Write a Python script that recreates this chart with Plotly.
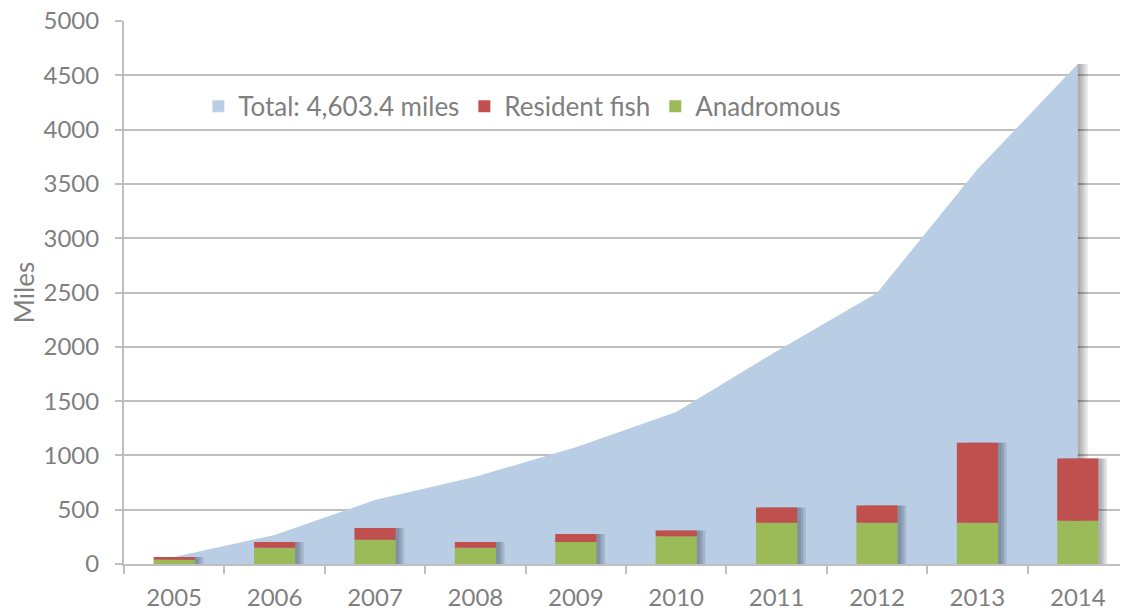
import plotly.graph_objects as go

years = ["2005", "2006", "2007", "2008", "2009", "2010", "2011", "2012", "2013", "2014"]
total_miles = [65, 267, 589, 803, 1075, 1400, 1960, 2495, 3635, 4603.4]
resident_fish = [25, 53, 108, 53, 73, 53, 140, 159, 736, 574]
anadromous = [40, 150, 224, 150, 203, 256, 380, 380, 380, 398]
bar_totals = [a + r for a, r in zip(anadromous, resident_fish)]

AREA = "#B9CDE5"
RED = "#C0504D"
GREEN = "#9BBB59"
GRID = "#BFBFBF"
TXT = "#7F7F7F"
FONT = "Lato"

BW = 0.41
fig = go.Figure()

# Total area on the base subplot (drawn beneath the bar subplot)
fig.add_trace(go.Scatter(
    x=years, y=total_miles, mode="lines", fill="tozeroy",
    fillcolor=AREA, line=dict(width=0, color=AREA),
    showlegend=False, hoverinfo="x+y", xaxis="x", yaxis="y",
))

# soft shadow along the right edge of the area
for w in [0.1, 0.075, 0.05, 0.025]:
    fig.add_trace(go.Bar(
        x=[years[-1]], y=[total_miles[-1]], width=w, offset=0,
        marker=dict(color="rgba(0,0,0,0.09)", line=dict(width=0)),
        showlegend=False, hoverinfo="skip", xaxis="x2", yaxis="y2",
    ))

# soft shadows behind bars
for dx in [0.085, 0.06, 0.035]:
    fig.add_trace(go.Bar(
        x=years, y=bar_totals, width=BW, offset=-BW / 2 + dx,
        marker=dict(color="rgba(20,30,50,0.13)", line=dict(width=0)),
        showlegend=False, hoverinfo="skip", xaxis="x2", yaxis="y2",
    ))

fig.add_trace(go.Bar(
    x=years, y=anadromous, name="Anadromous", width=BW, offset=-BW / 2,
    marker=dict(color=GREEN, line=dict(width=0)), legendrank=3,
    xaxis="x2", yaxis="y2",
))
fig.add_trace(go.Bar(
    x=years, y=resident_fish, base=anadromous, name="Resident fish",
    width=BW, offset=-BW / 2,
    marker=dict(color=RED, line=dict(width=0)), legendrank=2,
    xaxis="x2", yaxis="y2",
))
# legend entry for the area
fig.add_trace(go.Bar(
    x=[years[0]], y=[None], name="Total: 4,603.4 miles",
    marker=dict(color=AREA), legendrank=1, xaxis="x2", yaxis="y2",
))

# page body has an 8px margin, so the figure is sized to end at the window edge
fig.update_layout(
    width=1120, height=604,
    margin=dict(l=116, r=0, t=13, b=48),
    paper_bgcolor="white", plot_bgcolor="white",
    barmode="overlay",
    font=dict(family=FONT, size=24, color=TXT),
    showlegend=True,
    legend=dict(
        orientation="h", x=0.074, y=0.843, xanchor="left", yanchor="middle",
        bgcolor="rgba(0,0,0,0)", font=dict(family=FONT, size=26, color=TXT),
        itemwidth=30,
    ),
    xaxis=dict(
        type="category", range=[-0.5, 9.5], automargin=False,
        showline=True, linecolor=GRID, linewidth=2,
        ticks="outside", tickson="boundaries", ticklen=8, tickcolor=GRID, tickwidth=2,
        showgrid=False, tickfont=dict(family=FONT, size=24, color=TXT),
        ticklabelstandoff=11, ticklabeloverflow="allow",
    ),
    yaxis=dict(
        range=[0, 5000], dtick=500, tick0=0, automargin=False,
        showgrid=True, gridcolor=GRID, gridwidth=2,
        showline=True, linecolor=GRID, linewidth=2,
        ticks="outside", ticklen=7, tickcolor=GRID, tickwidth=2,
        zeroline=False, tickfont=dict(family=FONT, size=24, color=TXT),
        ticklabelstandoff=11, ticklabeloverflow="allow",
        title=dict(text="Miles", font=dict(family=FONT, size=26, color=TXT), standoff=3),
    ),
    xaxis2=dict(
        type="category", range=[-0.5, 9.5], overlaying="x", matches="x",
        visible=False, showgrid=False,
    ),
    yaxis2=dict(
        range=[0, 5000], overlaying="y", visible=False, showgrid=False,
        zeroline=False,
    ),
)

fig.write_html("out.html")
